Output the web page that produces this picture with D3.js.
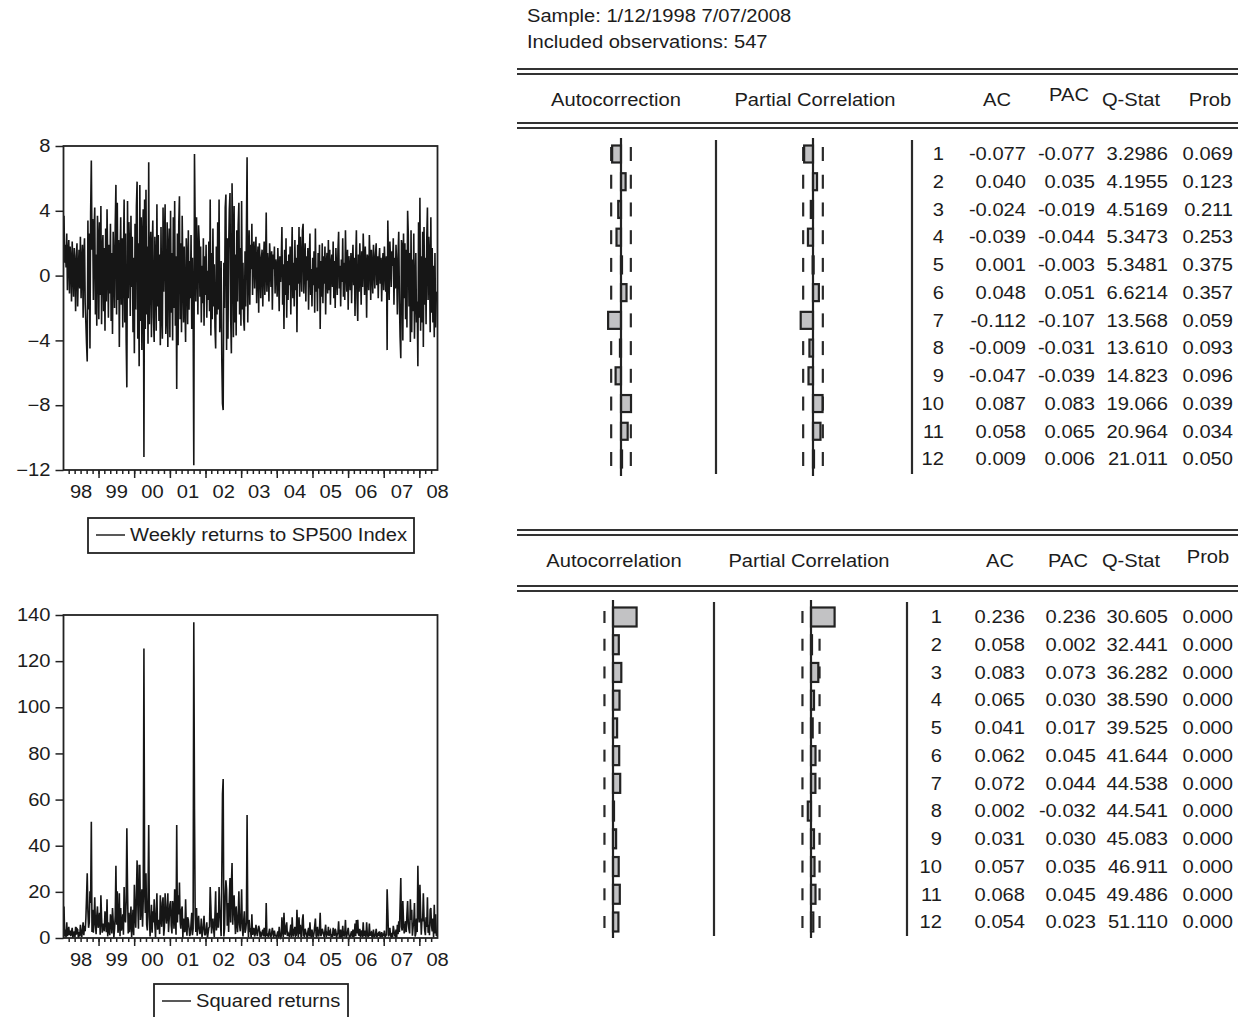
<!DOCTYPE html>
<html>
<head>
<meta charset="utf-8">
<script src="https://cdn.jsdelivr.net/npm/d3@7"></script>
<style>
  body { margin: 0; background: #fff; }
  svg text { font-family: "Liberation Sans", Arial, sans-serif; font-size: 17.5px; fill: #1c1c1c; }
</style>
</head>
<body>
<svg id="chart" width="1238" height="1017"></svg>
<script>
// weekly returns to the SP500 index, 12 Jan 1998 .. 7 Jul 2008 (one decimal)
const returns = [
  3.7, 0.8, 1.9, 0.5, 2.6, -0.9, 1.4, 2.2, -1.1, 1.8,
  0.9, -1.6, 2.1, 0.4, -1.3, 1.7, 0.6, -2.2, 1.2, 2.0,
  -1.9, 0.3, 1.6, -0.8, 2.4, -1.4, 0.7, 1.9, -2.6, 1.1,
  2.3, -1.7, -2.9, -4.2, -5.3, 3.4, -2.1, 2.6, -4.5, 3.9,
  7.1, 1.6, 3.5, -1.5, 2.8, 4.2, -2.4, 1.3, -3.1, 3.7,
  2.1, -2.7, 3.3, -1.2, 4.3, -3.0, 1.5, 2.5, -2.2, 1.7,
  -3.4, 2.9, -1.6, 4.1, 0.8, -2.6, 1.9, -1.1, 3.2, -2.8,
  1.4, -3.6, 2.7, 0.5, -2.0, 3.1, 5.6, -2.4, 4.5, -1.5,
  2.2, -4.4, 0.9, 3.6, -1.8, 2.3, -3.2, 1.2, 4.7, -2.9,
  2.6, -4.0, -6.9, 4.6, -1.4, 3.3, 1.6, -2.5, 3.7, -0.7,
  2.4, -3.5, 1.1, -4.8, 3.2, -2.1, 4.3, 5.8, -3.9, 2.0,
  -5.6, 5.6, -2.8, 3.6, -4.6, 2.2, 4.1, -11.2, 4.7, -3.3,
  5.3, -2.4, 1.8, -4.2, 7.0, -3.0, 0.8, 2.7, -3.8, 1.5,
  3.4, -2.6, -4.1, 2.4, 0.6, -3.4, 4.4, -1.9, 2.5, -2.8,
  1.3, -4.3, 3.0, -2.2, -3.9, 4.2, -1.0, 2.1, 4.4, -3.6,
  -2.5, 3.3, -4.4, 1.6, 2.9, -3.8, 4.0, -2.3, 1.4, -4.0,
  3.6, -2.0, 4.6, -3.1, 1.2, -7.0, 2.6, -4.3, 3.2, 4.9,
  -2.7, 2.0, -3.5, 3.7, 0.4, -2.9, 1.8, -1.6, -4.1, 2.3,
  1.0, -3.0, 2.8, -2.1, 0.9, -1.4, 2.5, -3.3, 1.1, -2.0,
  -11.7, 7.5, 3.2, -1.6, 3.6, 1.0, -2.4, 3.1, 2.0, -1.3,
  1.8, -2.9, 0.6, -1.7, 2.3, -3.1, 1.2, -1.2, 1.9, -2.6,
  0.3, -1.5, 2.1, -2.2, 4.7, -3.7, 1.4, -2.7, 2.9, -1.9,
  0.7, -3.2, -4.5, 1.8, -2.4, 3.3, -2.1, 4.7, -3.5, -2.6,
  0.9, -5.2, -7.9, -8.3, 0.8, -2.0, 4.2, 5.0, -4.6, 2.3,
  -3.9, 1.6, 4.1, 5.1, -2.6, -4.8, 5.7, 2.4, -3.8, 4.3,
  -2.9, 1.3, -3.7, 2.8, -1.6, 3.1, 4.5, -2.4, 1.7, -3.1,
  4.6, -2.1, 0.8, -2.7, -3.4, 1.5, -1.9, 2.6, 7.3, -2.9,
  0.6, 2.8, -1.8, 1.9, 0.4, 3.2, -1.2, 1.6, 2.1, -0.8,
  1.3, 2.4, -1.7, 0.9, 1.8, -2.3, 2.0, 0.7, -1.4, 1.1,
  1.6, -1.9, 0.8, 2.1, -1.2, 0.5, 3.9, -1.0, 1.4, 0.6,
  -1.6, 2.0, 0.9, -0.7, 1.5, -2.1, 1.3, 0.4, 1.8, -1.1,
  1.0, 0.6, -1.3, 1.7, 0.3, -2.2, 1.2, -0.4, 0.9, 3.0,
  -1.8, 0.7, -3.3, 1.6, -1.2, 2.3, -2.6, 0.9, -1.5, 1.3,
  -0.6, 1.8, -2.4, 0.5, 3.0, -1.4, 0.8, -1.9, 2.2, -0.9,
  1.1, -3.5, 1.9, -0.5, 3.0, -1.3, 2.4, 0.6, -1.0, 2.8,
  3.2, -1.1, 0.7, 2.0, -1.6, 1.2, -0.3, 1.7, -2.1, 0.8,
  2.6, -1.2, 0.4, -1.9, 1.1, -0.6, 1.5, -2.3, 2.9, -1.0,
  0.5, -2.2, 1.4, -0.8, 1.9, -3.3, 0.9, -1.3, 2.0, -1.7,
  1.2, -0.5, 1.8, -2.4, 0.7, 1.4, -1.1, 2.2, -0.9, 1.6,
  -1.8, 0.6, 1.3, -0.7, 2.1, -1.4, 0.9, -2.0, 1.7, 0.3,
  -1.2, 1.5, 2.7, -0.8, 0.6, -1.9, 1.0, -0.4, 2.3, -1.3,
  0.8, -1.5, 2.8, 0.4, -1.0, 1.6, -2.1, 1.2, 0.5, -0.9,
  1.4, -1.7, 0.7, 1.9, -0.6, 1.1, -2.5, 0.9, 2.8, -1.4,
  -2.8, 1.3, -1.0, 2.0, 0.6, -1.8, 1.5, -0.7, 2.6, 0.9,
  -1.2, 1.8, 0.5, -2.6, 1.3, 0.8, -0.9, 2.5, 1.0, -1.5,
  1.6, 0.4, -1.1, 1.9, 0.7, -0.8, 1.3, 2.0, -0.6, 1.2,
  -1.4, 0.9, 1.7, -0.5, 1.1, -1.6, 0.6, 1.4, -0.9, 1.8,
  0.5, -1.0, 1.2, -4.6, 3.4, 0.8, -1.5, 2.1, 1.0, -0.7,
  1.5, 0.6, 2.3, -1.8, 1.1, -0.8, 1.9, 0.4, -2.4, 1.3,
  2.7, -1.6, -3.8, -5.1, 2.2, 1.8, -4.0, 2.6, -1.4, 2.0,
  -2.7, 1.6, -3.2, 4.0, 2.5, -1.9, 1.4, -4.1, 2.8, -3.5,
  1.0, -2.2, 2.6, -3.9, -0.8, 1.4, -2.9, -1.6, -5.6, 3.3,
  -2.6, 4.8, -3.4, 1.2, -2.9, 2.7, -4.4, 3.0, -1.8, 1.1,
  -3.0, 2.2, 4.2, -1.5, 2.4, 1.1, -3.5, 3.6, -2.3, 1.7,
  -2.9, 0.6, -3.8, 1.4, -3.2, -1.1, -1.0
];
const squared = returns.map(r => r * r);

const yearLabels = ['98', '99', '00', '01', '02', '03', '04', '05', '06', '07', '08'];
const returnTicks = [8, 4, 0, -4, -8, -12];
const squaredTicks = [0, 20, 40, 60, 80, 100, 120, 140];

const sampleText = 'Sample: 1/12/1998 7/07/2008';
const observations = 547;

const lags = [1, 2, 3, 4, 5, 6, 7, 8, 9, 10, 11, 12];
const headersTop = ['Autocorrection', 'Partial Correlation', 'AC', 'PAC', 'Q-Stat', 'Prob'];
const headersBottom = ['Autocorrelation', 'Partial Correlation', 'AC', 'PAC', 'Q-Stat', 'Prob'];

const acReturns = [-0.077, 0.040, -0.024, -0.039, 0.001, 0.048, -0.112, -0.009, -0.047, 0.087, 0.058, 0.009];
const pacReturns = [-0.077, 0.035, -0.019, -0.044, -0.003, 0.051, -0.107, -0.031, -0.039, 0.083, 0.065, 0.006];
const qReturns = ['3.2986', '4.1955', '4.5169', '5.3473', '5.3481', '6.6214', '13.568', '13.610', '14.823', '19.066', '20.964', '21.011'];
const probReturns = ['0.069', '0.123', '0.211', '0.253', '0.375', '0.357', '0.059', '0.093', '0.096', '0.039', '0.034', '0.050'];

const acSquared = [0.236, 0.058, 0.083, 0.065, 0.041, 0.062, 0.072, 0.002, 0.031, 0.057, 0.068, 0.054];
const pacSquared = [0.236, 0.002, 0.073, 0.030, 0.017, 0.045, 0.044, -0.032, 0.030, 0.035, 0.045, 0.023];
const qSquared = ['30.605', '32.441', '36.282', '38.590', '39.525', '41.644', '44.538', '44.541', '45.083', '46.911', '49.486', '51.110'];
const probSquared = ['0.000', '0.000', '0.000', '0.000', '0.000', '0.000', '0.000', '0.000', '0.000', '0.000', '0.000', '0.000'];

const svg = d3.select('#chart');
const ink = '#222';

/* weekly dates from the first sample week */
const startDate = new Date(1998, 0, 12);
const dates = returns.map((d, i) => d3.timeDay.offset(startDate, 7 * i));

const x = d3.scaleTime()
	.domain([dates[0], dates[dates.length - 1]])
	.range([64, 437]);

function drawSeries(values, yDomain, yTicks, top, bottom, legend) {
	const g = svg.append('g');
	const y = d3.scaleLinear().domain(yDomain).range([bottom, top]);

	g.append('path')
		.datum(values)
		.attr('fill', 'none')
		.attr('stroke', '#161616')
		.attr('stroke-width', 1.6)
		.attr('stroke-linejoin', 'miter')
		.attr('d', d3.line().x((d, i) => x(dates[i])).y(d => y(d)));

	g.append('g')
		.attr('transform', 'translate(63.5,0)')
		.call(d3.axisLeft(y).tickValues(yTicks).tickSize(8).tickSizeOuter(0).tickPadding(5)
			.tickFormat(d => d < 0 ? '\u2212' + Math.abs(d) : d));

	// minor ticks every two months, long ticks at the turn of each year
	const minor = d3.timeMonth.every(2).range(dates[0], d3.timeDay.offset(dates[dates.length - 1], 1));
	const years = d3.timeYear.range(dates[0], dates[dates.length - 1]);
	const xAxis = g.append('g').attr('transform', 'translate(0,' + bottom + ')');
	xAxis.call(d3.axisBottom(x).tickValues(minor).tickSize(4).tickSizeOuter(0).tickFormat(''));
	xAxis.append('g').call(d3.axisBottom(x).tickValues(years).tickSize(8).tickSizeOuter(0).tickFormat(''));
	const mids = yearLabels.map((d, i) => new Date(1998 + i, 6, 1));
	xAxis.append('g').call(d3.axisBottom(x).tickValues(mids).tickSize(0).tickPadding(16)
		.tickFormat((d, i) => yearLabels[i]));

	g.selectAll('.domain').remove();
	g.selectAll('.tick line').attr('stroke', ink).attr('stroke-width', 1.5);
	g.selectAll('.tick text').attr('fill', '#1c1c1c').style('font-size', '17.5px').attr('font-family', null);

	g.append('rect')
		.attr('x', 63.5).attr('y', top)
		.attr('width', 437.5 - 63.5).attr('height', bottom - top)
		.attr('fill', 'none').attr('stroke', ink).attr('stroke-width', 1.8);

	// legend box
	g.append('rect')
		.attr('x', legend.x).attr('y', legend.y)
		.attr('width', legend.w).attr('height', legend.h)
		.attr('fill', 'none').attr('stroke', ink).attr('stroke-width', 1.8);
	g.append('line')
		.attr('x1', legend.x + 8).attr('x2', legend.x + 37)
		.attr('y1', legend.y + 17).attr('y2', legend.y + 17)
		.attr('stroke', ink).attr('stroke-width', 1.5);
	g.append('text')
		.attr('x', legend.x + 42).attr('y', legend.y + 17)
		.attr('dy', '0.35em')
		.text(legend.label);
}

drawSeries(returns, [-12, 8], returnTicks, 146, 470,
	{ label: 'Weekly returns to SP500 Index', x: 88, y: 518, w: 326, h: 35 });
drawSeries(squared, [0, 140], squaredTicks, 615, 938,
	{ label: 'Squared returns', x: 154, y: 984, w: 194, h: 50 });

/* header lines of the correlogram output */
svg.append('text').attr('x', 527).attr('y', 22).text(sampleText);
svg.append('text').attr('x', 527).attr('y', 48).text('Included observations: ' + observations);

const bound = 2 / Math.sqrt(observations);

function doubleRule(y) {
	[y, y + 5].forEach(v => {
		svg.append('line')
			.attr('x1', 517).attr('x2', 1238)
			.attr('y1', v).attr('y2', v)
			.attr('stroke', '#333').attr('stroke-width', 2);
	});
}

function drawCorrelogram(p) {
	const g = svg.append('g');
	doubleRule(p.ruleTop);
	doubleRule(p.ruleBottom);

	g.selectAll('.hdr')
		.data(p.headers)
		.join('text')
		.attr('x', (d, i) => p.headerX[i])
		.attr('y', (d, i) => p.headerY + p.headerShift[i])
		.attr('text-anchor', 'middle')
		.text(d => d);

	const row = d3.scaleLinear().domain([1, 12]).range([p.firstRow, p.lastRow]);

	[p.sep1, p.sep2].forEach(sx => {
		g.append('line')
			.attr('x1', sx).attr('x2', sx)
			.attr('y1', p.lineTop + 2).attr('y2', p.lineBottom - 2)
			.attr('stroke', '#2a2a2a').attr('stroke-width', 2.2);
	});

	[{ c: p.acCenter, v: p.ac, dashes: p.acDashes }, { c: p.pacCenter, v: p.pac, dashes: [-1, 1] }].forEach(panel => {
		const bx = d3.scaleLinear().domain([-0.1, 0.1]).range([panel.c - p.unit * 0.1, panel.c + p.unit * 0.1]);

		panel.dashes.forEach(side => {
			g.selectAll(null)
				.data(lags)
				.join('line')
				.attr('x1', bx(side * bound)).attr('x2', bx(side * bound))
				.attr('y1', d => row(d) - p.dash / 2).attr('y2', d => row(d) + p.dash / 2)
				.attr('stroke', '#2a2a2a').attr('stroke-width', 2.2);
		});

		g.selectAll(null)
			.data(panel.v)
			.join('rect')
			.attr('x', d => Math.min(bx(0), bx(d)))
			.attr('y', (d, i) => row(lags[i]) - p.barH / 2)
			.attr('width', d => Math.max(1, Math.abs(bx(d) - bx(0))))
			.attr('height', p.barH)
			.attr('fill', '#c2c2c4')
			.attr('stroke', '#222')
			.attr('stroke-width', 2.2);

		g.append('line')
			.attr('x1', panel.c).attr('x2', panel.c)
			.attr('y1', p.lineTop).attr('y2', p.lineBottom)
			.attr('stroke', '#222').attr('stroke-width', 2.2);
	});

	const columns = [
		{ x: p.colX[0], vals: lags.map(String) },
		{ x: p.colX[1], vals: p.ac.map(d => d3.format('.3f')(d).replace('\u2212', '-')) },
		{ x: p.colX[2], vals: p.pac.map(d => d3.format('.3f')(d).replace('\u2212', '-')) },
		{ x: p.colX[3], vals: p.q },
		{ x: p.colX[4], vals: p.prob }
	];
	columns.forEach(col => {
		g.selectAll(null)
			.data(col.vals)
			.join('text')
			.attr('x', col.x)
			.attr('y', (d, i) => row(lags[i]))
			.attr('dy', '0.36em')
			.attr('text-anchor', 'end')
			.text(d => d);
	});
}

drawCorrelogram({
	headers: headersTop, ac: acReturns, pac: pacReturns, q: qReturns, prob: probReturns,
	ruleTop: 69, ruleBottom: 123,
	headerX: [616, 815, 997, 1069, 1131, 1210], headerY: 106, headerShift: [0, 0, 0, -5, 0, 0],
	firstRow: 154, lastRow: 459, lineTop: 138, lineBottom: 476,
	acCenter: 621, pacCenter: 813, sep1: 716, sep2: 912,
	unit: 115, barH: 17, dash: 14, acDashes: [-1, 1],
	colX: [944, 1026, 1095, 1168, 1233]
});

drawCorrelogram({
	headers: headersBottom, ac: acSquared, pac: pacSquared, q: qSquared, prob: probSquared,
	ruleTop: 530, ruleBottom: 586,
	headerX: [614, 809, 1000, 1068, 1131, 1208], headerY: 567, headerShift: [0, 0, 0, 0, 0, -4],
	firstRow: 617, lastRow: 922, lineTop: 600, lineBottom: 938,
	acCenter: 613, pacCenter: 811, sep1: 714, sep2: 907,
	unit: 100, barH: 19, dash: 12, acDashes: [-1],
	colX: [942, 1025, 1096, 1168, 1233]
});

/* the scanned page has a wide, slightly stretched type face */
svg.selectAll('text').each(function() {
	const w = this.getComputedTextLength();
	if (w > 0) d3.select(this).attr('textLength', w * 1.15).attr('lengthAdjust', 'spacingAndGlyphs');
});
</script>
</body>
</html>
